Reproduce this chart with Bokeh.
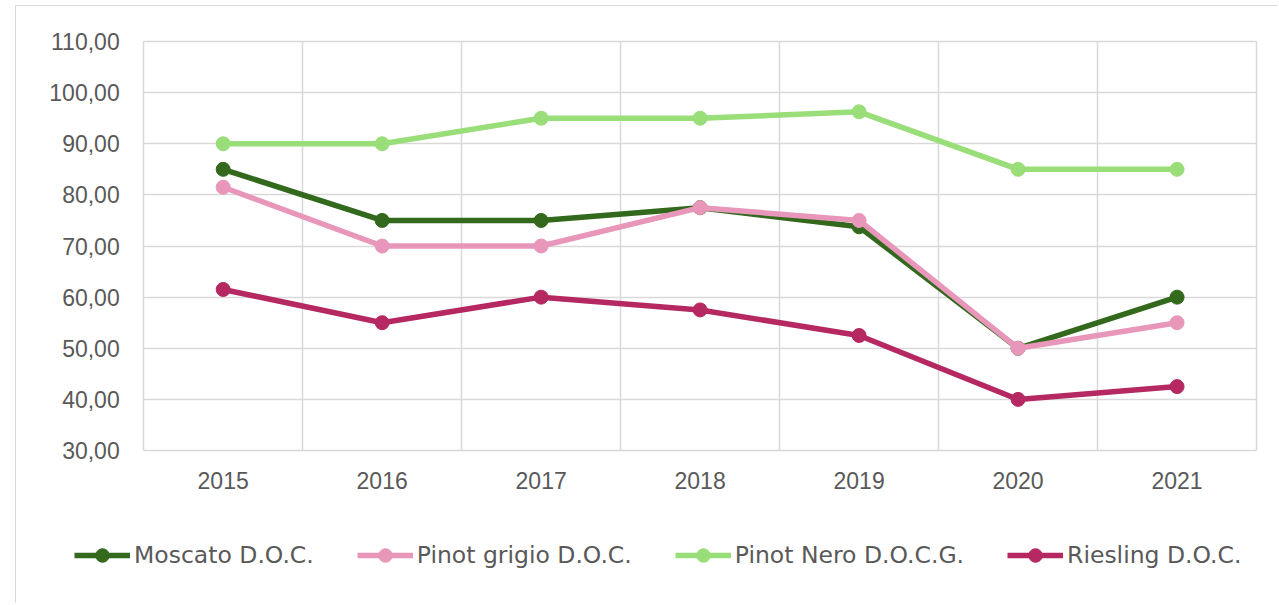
from bokeh.plotting import figure
from bokeh.models import FixedTicker, Legend, LegendItem, Grid, BoxAnnotation
from bokeh.embed import file_html
from bokeh.resources import INLINE

years = [2015, 2016, 2017, 2018, 2019, 2020, 2021]
moscato = [85.0, 75.0, 75.0, 77.5, 73.75, 50.0, 60.0]
pinot_grigio = [81.5, 70.0, 70.0, 77.5, 75.0, 50.0, 55.0]
pinot_nero = [90.0, 90.0, 95.0, 95.0, 96.25, 85.0, 85.0]
riesling = [61.5, 55.0, 60.0, 57.5, 52.5, 40.0, 42.5]
y_ticks = [30, 40, 50, 60, 70, 80, 90, 100, 110]

series = [
    ("Moscato D.O.C.", moscato, "#33691C"),
    ("Pinot grigio D.O.C.", pinot_grigio, "#E897BA"),
    ("Pinot Nero D.O.C.G.", pinot_nero, "#99DE78"),
    ("Riesling D.O.C.", riesling, "#B52861"),
]

x_lo, x_hi = years[0] - 0.5, years[-1] + 0.5
y_lo, y_hi = y_ticks[0], y_ticks[-1]

# the frame covers the whole canvas; axes are pinned to the plot box edges
p = figure(width=1262, height=598, output_backend="svg", toolbar_location=None,
           x_range=(x_lo - 0.80, x_hi + 0.138), y_range=(y_lo - 30.12, y_hi + 6.85),
           min_border_left=0, min_border_right=0, min_border_top=0, min_border_bottom=0)
p.styles = {"margin-left": "15px", "margin-top": "5px",
            "border-left": "1px solid #d9d9d9", "border-top": "1px solid #d9d9d9"}
p.outline_line_color = None
p.background_fill_color = "white"
p.border_fill_color = "white"

tick_font = "Liberation Sans"
for ax in (p.xaxis[0], p.yaxis[0]):
    ax.axis_line_color = None
    ax.major_tick_line_color = None
    ax.minor_tick_line_color = None
    ax.major_tick_out = 0
    ax.major_tick_in = 0
    ax.major_label_text_font = tick_font
    ax.major_label_text_font_size = "23px"
    ax.major_label_text_color = "#595959"

p.xaxis.fixed_location = y_lo
p.xaxis.ticker = FixedTicker(ticks=years)
p.xaxis.major_label_overrides = {y: str(y) for y in years}
p.xaxis.major_label_standoff = 21
p.yaxis.fixed_location = x_lo
p.yaxis.ticker = FixedTicker(ticks=y_ticks)
p.yaxis.major_label_overrides = {t: f"{t:.2f}".replace(".", ",") for t in y_ticks}
p.yaxis.major_label_standoff = 24

p.xgrid.ticker = FixedTicker(ticks=[y - 0.5 for y in years] + [x_hi])
p.ygrid.ticker = FixedTicker(ticks=y_ticks)
for g in (p.xgrid[0], p.ygrid[0]):
    g.grid_line_color = "#d9d9d9"
    g.grid_line_width = 1.5

if "cross_bounds" in Grid.properties():
    p.xgrid.cross_bounds = (y_lo, y_hi)
    p.ygrid.cross_bounds = (x_lo, x_hi)
else:
    for kw in (dict(top=y_lo), dict(bottom=y_hi), dict(right=x_lo), dict(left=x_hi)):
        p.add_layout(BoxAnnotation(fill_color="white", fill_alpha=1, line_alpha=0,
                                   level="underlay", **kw))

items = []
for name, vals, color in series:
    l = p.line(years, vals, line_color=color, line_width=5.5)
    s = p.scatter(years, vals, size=14, fill_color=color, line_color=color)
    items.append(LegendItem(label=name, renderers=[l, s]))

legend = Legend(items=items, orientation="horizontal", location=(58, 32),
                glyph_width=56, glyph_height=34, label_standoff=4, spacing=43,
                padding=0, margin=0, border_line_color=None, background_fill_alpha=0,
                label_text_font="DejaVu Sans", label_text_font_size="23.5px",
                label_text_color="#595959")
p.add_layout(legend, "center")

open("out.html", "w").write(file_html(p, INLINE))
